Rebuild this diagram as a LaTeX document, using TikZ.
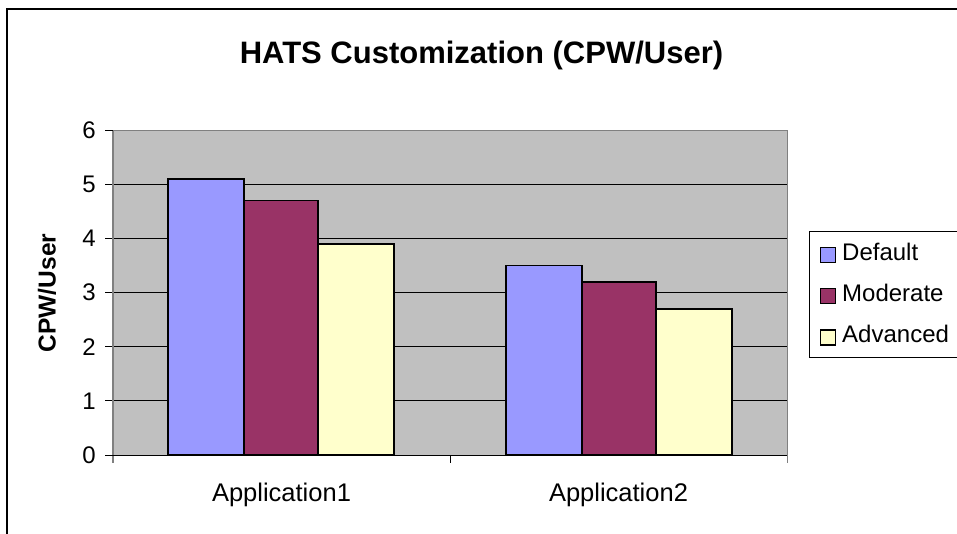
\documentclass[tikz,border=0pt]{standalone}
\usepackage{fontspec}
\setmainfont{Liberation Sans}
\definecolor{plotgray}{HTML}{C0C0C0}
\definecolor{axisgray}{HTML}{808080}
\definecolor{defaultblue}{HTML}{9999FF}
\definecolor{moderatered}{HTML}{993366}
\definecolor{advancedyellow}{HTML}{FFFFCC}
\begin{document}
\begin{tikzpicture}[x=1pt, y=-1pt,
        every node/.style={inner sep=0pt, font=\fontsize{24}{28}\selectfont},
        bar/.style={draw=black, line width=1.8pt},
        gridline/.style={black, line width=0.9pt},
        swatch/.style={draw=black, line width=1.2pt, minimum size=15pt}]
    \useasboundingbox (0,0) rectangle (957,533);
    % frame and plot area
    \draw[line width=2.2pt] (7,545) -- (7,9) -- (970,9);
    \fill[plotgray] (113,130) rectangle (787,455);
    \draw[gridline] (105,184.17) -- (787,184.17);
    \draw[gridline] (105,238.33) -- (787,238.33);
    \draw[gridline] (105,292.5) -- (787,292.5);
    \draw[gridline] (105,346.67) -- (787,346.67);
    \draw[gridline] (105,400.83) -- (787,400.83);
    \draw[axisgray, line width=1pt] (113,130) -- (787,130) -- (787,463);
    \draw[axisgray, line width=1.2pt] (113,130) -- (113,463);
    \draw[gridline] (105,130) -- (113,130);
    \draw[gridline] (105,455) -- (787,455);
    \draw[gridline] (450,455) -- (450,463);
    % bars
    \filldraw[bar, fill=defaultblue] (168,455) rectangle (244,178.75);
    \filldraw[bar, fill=moderatered] (244,455) rectangle (318,200.42);
    \filldraw[bar, fill=advancedyellow] (318,455) rectangle (394,243.75);
    \filldraw[bar, fill=defaultblue] (506,455) rectangle (582,265.42);
    \filldraw[bar, fill=moderatered] (582,455) rectangle (656,281.67);
    \filldraw[bar, fill=advancedyellow] (656,455) rectangle (732,308.75);
    % labels
    \node[anchor=base, font=\fontsize{31}{36}\selectfont\bfseries] (title) at (481.5,63) {HATS Customization (CPW/User)};
    \node[rotate=90, font=\fontsize{24.5}{28}\selectfont\bfseries] (ylabel) at (47,293) {CPW/User};
    \node[anchor=east] (y0) at (96,455) {0};
    \node[anchor=east] (y1) at (96,400.83) {1};
    \node[anchor=east] (y2) at (96,346.67) {2};
    \node[anchor=east] (y3) at (96,292.5) {3};
    \node[anchor=east] (y4) at (96,238.33) {4};
    \node[anchor=east] (y5) at (96,184.17) {5};
    \node[anchor=east] (y6) at (96,130) {6};
    \node[anchor=base, font=\fontsize{25.5}{30}\selectfont] (app1) at (281.5,501) {Application1};
    \node[anchor=base, font=\fontsize{25.5}{30}\selectfont] (app2) at (618.5,501) {Application2};
    % legend
    \draw[line width=1pt] (809,231) rectangle (975,357);
    \node[swatch, fill=defaultblue] (keydefault) at (828,255) {};
    \node[swatch, fill=moderatered] (keymoderate) at (828,296) {};
    \node[swatch, fill=advancedyellow] (keyadvanced) at (828,337.5) {};
    \node[anchor=base west] (default) at (842,260) {Default};
    \node[anchor=base west] (moderate) at (842,301) {Moderate};
    \node[anchor=base west] (advanced) at (842,342) {Advanced};
\end{tikzpicture}
\end{document}
